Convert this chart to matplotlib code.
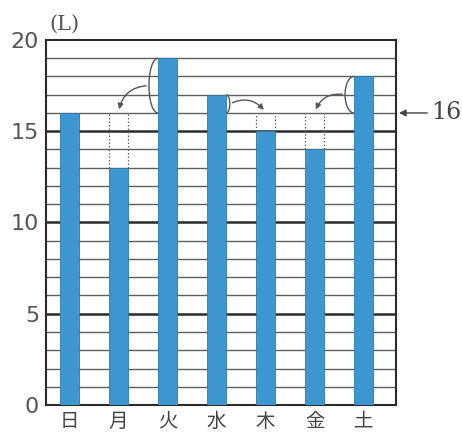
import matplotlib.pyplot as plt
from matplotlib.patches import Arc
import numpy as np

plt.rcParams['font.family'] = ['Noto Sans CJK JP', 'DejaVu Sans']

# data
days = ['日', '月', '火', '水', '木', '金', '土']
liters = [16, 13, 19, 17, 15, 14, 18]
target = 16
# (from bar, to bar) for the "move water" arrows
moves = [(2, 1), (3, 4), (6, 5)]

bar_w = 0.4
bar_color = '#3d96d0'

fig = plt.figure(figsize=(4.62, 4.34), dpi=100)
ax = fig.add_axes([0.0996, 0.0668, 0.7576, 0.8412])

x = np.arange(len(days))

# horizontal grid lines
for v in range(1, 20):
    if v % 5 == 0:
        ax.axhline(v, color='#2b2b2b', lw=1.8, zorder=1)
    else:
        ax.axhline(v, color='#5e5e5e', lw=1.0, zorder=1)

ax.bar(x, liters, width=bar_w, color=bar_color, edgecolor='#2f79a8',
       linewidth=0.6, zorder=3)

# dotted outline up to 16 for the shorter bars
for i, v in enumerate(liters):
    if v < target:
        for xe in (x[i] - bar_w / 2, x[i] + bar_w / 2):
            ax.plot([xe, xe], [v, target], ls=(0, (1.2, 1.6)), color='#666666',
                    lw=0.9, zorder=4)

# brackets and arrows
for src, dst in moves:
    v = liters[src]
    mid = (v + target) / 2
    h = v - target
    if dst < src:
        xe = x[src] - bar_w / 2
        arc = Arc((xe, mid), 0.36, h, theta1=90, theta2=270, color='#555555',
                  lw=1.0, zorder=5)
        start = (xe - 0.18, mid)
        rad = 0.4
    else:
        xe = x[src] + bar_w / 2
        arc = Arc((xe, mid), 0.14, h, theta1=-90, theta2=90, color='#555555',
                  lw=1.0, zorder=5)
        start = (xe + 0.07, mid)
        rad = -0.4
    ax.add_patch(arc)
    ax.annotate('', xy=(x[dst], target + 0.05), xytext=start,
                arrowprops=dict(arrowstyle='-|>', color='#555555', lw=1.0,
                                mutation_scale=8,
                                connectionstyle=f'arc3,rad={rad}'),
                zorder=5)

ax.set_xlim(-0.48, 6.66)
ax.set_ylim(0, 20)
ax.set_yticks([0, 5, 10, 15, 20])
ax.set_yticklabels(['0', '5', '10', '15', '20'], fontsize=16, color='#555555',
                   family='DejaVu Sans')
ax.set_xticks(x)
ax.set_xticklabels(days, fontsize=14, color='#444444')
ax.tick_params(axis='y', length=0, pad=5)
ax.tick_params(axis='x', length=0, pad=4)
for s in ax.spines.values():
    s.set_color('#2b2b2b')
    s.set_linewidth(1.5)

ax.text(-0.1, 20.35, '(L)', fontsize=15, color='#555555', family='DejaVu Serif',
        ha='center', va='bottom')

ax.annotate('16', xy=(6.72, target), xytext=(8.0, target),
            xycoords='data', textcoords='data', fontsize=17, color='#444444',
            family='DejaVu Serif', va='center', ha='right',
            arrowprops=dict(arrowstyle='-|>', color='#444444', lw=1.0,
                            mutation_scale=10, shrinkA=1, shrinkB=0),
            annotation_clip=False)

fig.savefig('out.png', dpi=100)
